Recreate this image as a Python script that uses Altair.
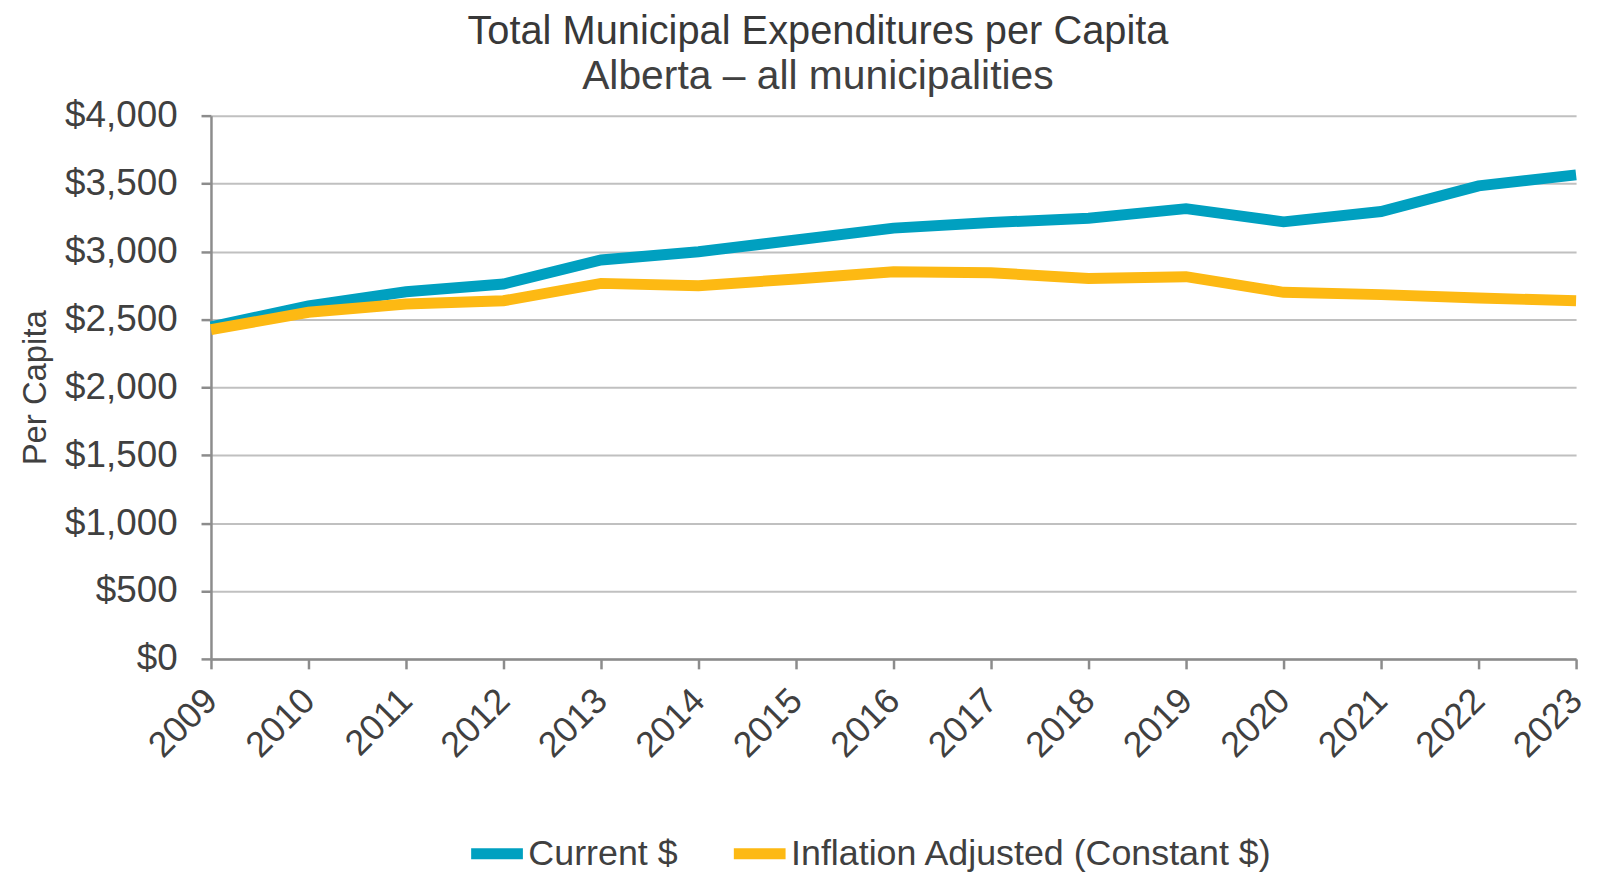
import altair as alt
import pandas as pd

years = [2009, 2010, 2011, 2012, 2013, 2014, 2015, 2016, 2017, 2018, 2019, 2020, 2021, 2022, 2023]
current = [2445, 2600, 2703, 2760, 2937, 2998, 3084, 3172, 3213, 3245, 3315, 3218, 3294, 3483, 3564]
constant = [2425, 2552, 2613, 2637, 2765, 2748, 2797, 2851, 2843, 2801, 2814, 2699, 2682, 2657, 2637]
series_names = ["Current $", "Inflation Adjusted (Constant $)"]
series_colors = ["#00A0C0", "#FDB913"]

rows = []
for y, c, k in zip(years, current, constant):
    rows.append({"Year": str(y), "Value": c, "Series": series_names[0]})
    rows.append({"Year": str(y), "Value": k, "Series": series_names[1]})
df = pd.DataFrame(rows)

FONT = "Liberation Sans"
TXT = "#404040"

chart = alt.Chart(df).mark_line(strokeWidth=11, strokeJoin="miter").encode(
    x=alt.X("Year:O", scale=alt.Scale(type="point", padding=0),
            axis=alt.Axis(title=None, labelAngle=-45, labelAlign="right", labelBaseline="middle",
                          labelFontSize=36, labelColor=TXT, labelFont=FONT, labelPadding=26,
                          tickSize=10, tickColor="#8C8C8C", tickWidth=2.5,
                          domainColor="#8C8C8C", domainWidth=2.5, grid=False)),
    y=alt.Y("Value:Q", scale=alt.Scale(domain=[0, 4000], nice=False),
            axis=alt.Axis(title="Per Capita", values=list(range(0, 4001, 500)), format="$,.0f",
                          labelFontSize=37, labelColor=TXT, labelFont=FONT, labelPadding=24,
                          tickSize=10, tickColor="#8C8C8C", tickWidth=2.5,
                          domainColor="#8C8C8C", domainWidth=2.5,
                          gridColor="#C0C0C0", gridWidth=2,
                          titleFontSize=33, titleFont=FONT, titleColor=TXT, titleFontWeight="normal",
                          titleAngle=-90, titleX=-176, titleY=273, titleAlign="center",
                          titleBaseline="middle")),
    color=alt.Color("Series:N", scale=alt.Scale(domain=series_names, range=series_colors),
                    legend=alt.Legend(title=None, orient="none", direction="horizontal",
                                      legendX=256, legendY=710, padding=0,
                                      symbolType="stroke", symbolSize=2704, symbolStrokeWidth=11,
                                      labelFontSize=36, labelFont=FONT, labelColor=TXT,
                                      labelLimit=0, labelOffset=0, columnPadding=33)),
).properties(
    width=1372,
    height=546,
    title=alt.TitleParams(
        text="Total Municipal Expenditures per Capita",
        subtitle="Alberta \u2013 all municipalities",
        anchor="middle", dx=-76, offset=0, subtitlePadding=5,
        font=FONT, fontSize=40, fontWeight=500, color="#383838",
        subtitleFont=FONT, subtitleFontSize=41, subtitleColor=TXT,
    ),
    autosize=alt.AutoSizeParams(type="none"),
    padding={"left": 204, "top": 106, "right": 15, "bottom": 212},
).configure_view(stroke=None)

chart.save("out.html", embed_options={"renderer": "svg", "actions": False})
